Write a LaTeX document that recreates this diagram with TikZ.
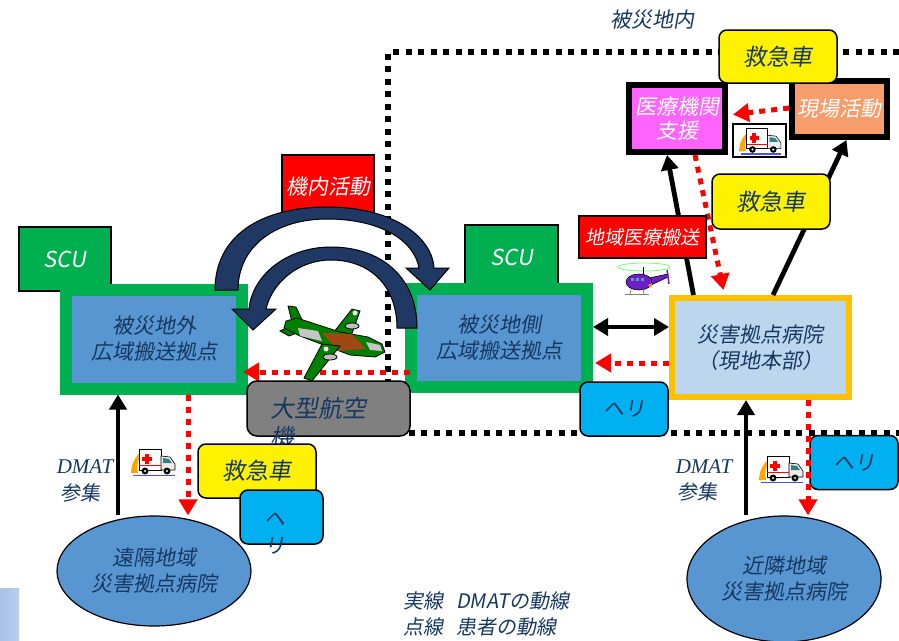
\documentclass[tikz,border=0pt]{standalone}
\usepackage{fontspec}
\newfontfamily\jp[FakeSlant=0.18]{Noto Sans CJK JP}
\newfontfamily\dmatserif{Liberation Serif}
\usetikzlibrary{arrows.meta,shapes.geometric,calc}

\definecolor{txtblue}{RGB}{22,56,96}
\definecolor{scugreen}{RGB}{0,176,80}
\definecolor{hubblue}{RGB}{88,150,210}
\definecolor{hosplight}{RGB}{188,214,238}
\definecolor{hosporange}{RGB}{255,192,0}
\definecolor{heliblue}{RGB}{0,176,240}
\definecolor{medpink}{RGB}{255,100,255}
\definecolor{sitesalmon}{RGB}{247,156,107}
\definecolor{navy}{RGB}{31,56,100}
\definecolor{planegray}{RGB}{128,128,128}
\definecolor{camo}{RGB}{0,128,0}
\definecolor{camobrown}{RGB}{160,72,20}
\definecolor{heliviolet}{RGB}{110,30,200}

\tikzset{
  ambulance/.pic={
    % yellow swoosh
    \fill[orange!70!yellow] (-22,12) .. controls (-22,0) and (-14,-10) .. (-6,-12)
          .. controls (-14,-6) and (-17,2) .. (-15,12) -- cycle;
    % body and cab
    \draw[fill=white,line width=0.6pt] (-14,-12) rectangle (8,9);
    \draw[fill=gray!15,line width=0.6pt] (8,-5) -- (17,-4) -- (22,3) -- (22,9) -- (8,9) -- cycle;
    \fill[teal!60!gray] (10,-3) -- (16,-2) -- (19,2) -- (10,2) -- cycle;
    % red cross
    \fill[red] (-8,-7) rectangle (-4,3);
    \fill[red] (-11,-4) rectangle (-1,0);
    \fill[red] (-14,4) rectangle (8,5);
    % wheels and road
    \fill[black] (-8,10) circle (3.5);
    \fill[black] (14,10) circle (3.5);
    \fill[white] (-8,10) circle (1.2);
    \fill[white] (14,10) circle (1.2);
    \draw[blue!70,line width=1.6pt] (-20,14.5) -- (22,14.5);
  },
  helicopter/.pic={
    \draw[green!55!white,line width=0.8pt] (1,-12) ellipse [x radius=26,y radius=4];
    \draw[black,line width=1pt] (0,-12) -- (0,-5);
    \draw[fill=heliviolet,line width=0.6pt] (6,-1) -- (25,-5) -- (25,-2) -- (8,6) -- cycle;
    \draw[heliviolet,line width=1.5pt] (24,-9) -- (26,5);
    \draw[fill=heliviolet,line width=0.6pt] (-4,3) ellipse [x radius=13,y radius=8];
    \fill[teal!70!white] (-12,-1) rectangle (-9,2);
    \fill[teal!70!white] (-7,-1) rectangle (-4,2);
    \fill[teal!70!white] (-2,-1) rectangle (1,2);
    \fill[orange!80!yellow] (5,6) -- (9,4) -- (8,9) -- cycle;
    \draw[gray,line width=1pt] (-18,15) -- (6,15);
    \draw[gray,line width=0.8pt] (-12,10) -- (-13,15) (0,10) -- (1,15);
  }
}

\begin{document}
\begin{tikzpicture}[x=1pt,y=-1pt,
  lbl/.style={text=txtblue,font=\jp\fontsize{21}{26}\selectfont,align=center,inner sep=0pt},
  wlbl/.style={lbl,text=white},
  tbox/.style={lbl,draw=scugreen,line width=12pt,fill=hubblue,minimum width=176pt,minimum height=99pt},
  scubox/.style={draw=black,line width=1.5pt,fill=scugreen,text=white,
    font=\jp\fontsize{22}{26}\selectfont,minimum width=92pt,minimum height=64pt,inner sep=0pt},
  ybox/.style={lbl,font=\jp\fontsize{23}{28}\selectfont,draw=black,line width=1.5pt,fill=yellow,
    rounded corners=8pt,minimum width=118pt,minimum height=54pt},
  hbox/.style={lbl,draw=black,line width=1.5pt,fill=heliblue,rounded corners=8pt,
    minimum width=88pt,minimum height=54pt},
  hospital/.style={lbl,ellipse,draw=black,line width=1.2pt,fill=hubblue,
    minimum width=194pt,minimum height=110pt},
  dotframe/.style={line width=5.5pt,dash pattern=on 6pt off 6.5pt},
  blk/.style={line width=4.8pt,-{Triangle[width=17pt,length=15pt]}},
  blkboth/.style={line width=4.8pt,{Triangle[width=17pt,length=15pt]}-{Triangle[width=17pt,length=15pt]}},
  reddot/.style={red,line width=5pt,dash pattern=on 6pt off 6pt,-{Triangle[width=18pt,length=16pt]}},
  navyarrow/.style={fill=navy,draw=black,line width=1pt},
  dmat/.style={text=txtblue,font=\dmatserif\itshape\fontsize{21}{24}\selectfont,inner sep=0pt},
  cjk/.style={text=txtblue,font=\jp\fontsize{20}{24}\selectfont,inner sep=0pt}
]
\useasboundingbox (0,0) rectangle (899,640);

% corner shading
\shade[left color={rgb,255:red,166;green,194;blue,230},right color={rgb,255:red,184;green,206;blue,236}]
  (0,588) rectangle (19,640);

% disaster area boundary
\node[lbl] (inside) at (652,20) {被災地内};
\draw[dotframe] (899,52) -| (388,433) -- (899,433);

% in-flight activity label
\node[wlbl,draw=black,line width=1.2pt,fill=red,minimum width=92pt,minimum height=63pt] (kinai) at (328,186.5) {機内活動};

% SCU and staging bases
\node[scubox] (scuL) at (65,259) {SCU};
\node[scubox,minimum width=93pt] (scuR) at (511.5,257) {SCU};
\node[tbox] (lt) at (154,339) {被災地外\\広域搬送拠点};
\node[tbox,minimum height=98pt] (rt) at (499,338) {被災地側\\広域搬送拠点};

% large curved arrows (flight out and back)
\path[navyarrow] (215,290) .. controls (215,235) and (262,207) .. (327,207)
  .. controls (392,207) and (432,236) .. (434,268) -- (449,268) -- (430,290) -- (406,268) -- (419,268)
  .. controls (414,240) and (380,219) .. (327,219)
  .. controls (276,219) and (238,246) .. (238,290) -- cycle;
\path[navyarrow] (417,328) .. controls (417,276) and (380,247) .. (331,247)
  .. controls (286,247) and (252,276) .. (249,309) -- (232,309) -- (253,330) -- (276,309) -- (266,309)
  .. controls (272,283) and (298,260) .. (331,260)
  .. controls (370,260) and (397,286) .. (397,328) -- cycle;

% patient transfer between staging bases
\draw[reddot] ([xshift=5pt,yshift=-34pt]rt.west) -- ([xshift=-5pt,yshift=-33pt]lt.east);

% transport aircraft
\begin{scope}[line width=0.8pt,draw=black]
  \draw[fill=camo] (292,322) -- (288,306) -- (296,307) -- (305,326) -- cycle;
  \draw[fill=camo] (280,331) -- (299,322) -- (307,329) -- (289,336) -- cycle;
  \draw[fill=camo] (330,337) -- (352,309) -- (360,311) -- (349,342) -- cycle;
  \draw[fill=camo] (286,321) -- (297,318) -- (340,332) -- (368,337) -- (382,344) -- (385,352)
    -- (375,357) -- (350,355) -- (300,336) -- (284,328) -- cycle;
  \fill[camobrown] (322,333) -- (352,334) -- (366,349) -- (338,351) -- cycle;
  \fill[gray!45] (298,328) -- (318,331) -- (322,341) -- (300,336) -- cycle;
  \fill[gray!45] (366,342) -- (380,345) -- (382,351) -- (370,350) -- cycle;
  \draw[fill=camo] (322,344) -- (340,346) -- (312,381) -- (304,378) -- cycle;
  \draw[fill=gray!50] (352,326) ellipse [x radius=7,y radius=3];
  \draw[fill=gray!50] (330,357) ellipse [x radius=7,y radius=3];
  \fill[white] (355,313) circle (2.5);
  \fill[white] (326,349) circle (2.5);
\end{scope}

% large aircraft label box
\node[draw=black,line width=1.5pt,fill=planegray,rounded corners=10pt,minimum width=163pt,minimum height=55pt] (bigplane) at (328.5,408.5) {};
\node[lbl,font=\jp\fontsize{24}{29}\selectfont,align=left,anchor=west] (bigplanetext) at (270,422.5) {大型航空\\機};

% base hospital (on-site HQ)
\node[lbl,draw=hosporange,line width=6pt,fill=hosplight,minimum width=177pt,minimum height=99pt] (hosp) at (760.5,347.5) {災害拠点病院\\（現地本部）};

% links between staging base and base hospital
\draw[blkboth] ([yshift=11pt]rt.east) -- ([yshift=11pt]rt.east -| hosp.west);
\draw[reddot] ([yshift=-15.5pt]hosp.west) -- ([xshift=2pt,yshift=-15.5pt]hosp.west -| rt.east);

% helicopter boxes
\node[hbox] (heliM) at (624,409) {ヘリ};
\node[hbox] (heliR) at (854,462.5) {ヘリ};

% hospitals outside the area
\node[hospital] (remote) at (154,571) {遠隔地域\\災害拠点病院};
\node[hospital,minimum height=126pt] (near) at (784,579) {近隣地域\\災害拠点病院};

% DMAT gathering and patient routes, left side
\draw[blk] ([xshift=-36pt]remote.north) -- ([xshift=-36pt]lt.south);
\draw[reddot] ([xshift=34pt]lt.south) -- ([xshift=34pt]remote.north);
\node[dmat] (dmatL) at (85,467) {DMAT};
\node[cjk] (sanshuL) at (80,493) {参集};
\pic at (153,461) {ambulance};
\node[ybox] (ambL) at (257,471) {救急車};
\node[hbox,minimum width=83pt] (heliL) at (281.5,517) {};
\node[lbl,align=left,anchor=west,font=\jp\fontsize{21}{27}\selectfont] (heliLtext) at (264,533.5) {ヘ\\リ};

% DMAT gathering and patient routes, right side
\draw[blk] ([xshift=-38pt]near.north) -- ([xshift=-14.5pt]hosp.south);
\draw[reddot] ([xshift=47.5pt]hosp.south) -- ([xshift=24pt]near.north);
\node[dmat] (dmatR) at (704,467) {DMAT};
\node[cjk] (sanshuR) at (697,492) {参集};
\pic at (781,468) {ambulance};

% activities inside the area
\node[wlbl,draw=black,line width=6pt,fill=medpink,minimum width=96pt,minimum height=67pt,
      font=\jp\fontsize{21}{24}\selectfont] (med) at (677,118.5) {医療機関\\支援};
\node[wlbl,draw=black,line width=6pt,fill=sitesalmon,minimum width=95pt,minimum height=56pt] (site) at (839.5,109) {現場活動};

\draw[blk] ([xshift=-67pt]hosp.north) -- ([xshift=-10pt]med.south);
\draw[blk] ([xshift=12.5pt]hosp.north) -- ([xshift=7pt]site.south);
\draw[reddot] ([xshift=18pt]med.south) -- ([xshift=-37pt,yshift=5pt]hosp.north);
\draw[reddot] ([yshift=1pt]site.west) -- ([xshift=5pt,yshift=4pt]med.east);

\node[draw=black,line width=1.2pt,fill=white,minimum width=53pt,minimum height=33pt,inner sep=0pt] (ambframe) at (759.5,140.5) {};
\pic[scale=0.95] at (760,140) {ambulance};

\node[ybox,minimum height=53pt] (ambTop) at (778,56.5) {救急車};
\node[ybox,minimum height=55pt] (ambMid) at (771,201.5) {救急車};
\node[wlbl,draw=black,line width=1.5pt,fill=red,minimum width=127pt,minimum height=42pt,
      font=\jp\fontsize{19}{22}\selectfont] (chiiki) at (642.5,237) {地域医療搬送};
\pic at (643,279) {helicopter};

% legend
\node[cjk,anchor=west] (legendA) at (403,601) {実線\hspace{13pt}DMATの動線};
\node[cjk,anchor=west] (legendB) at (403,627) {点線\hspace{13pt}患者の動線};
\end{tikzpicture}
\end{document}
